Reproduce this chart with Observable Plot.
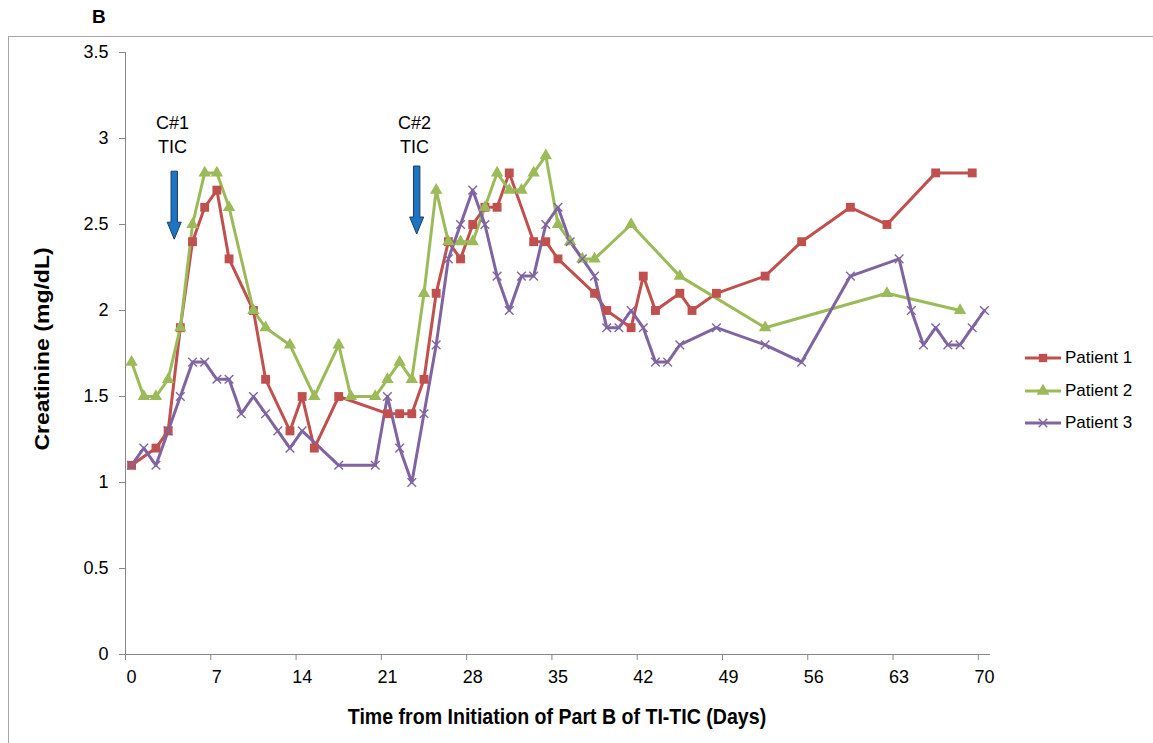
<!DOCTYPE html>
<html>
<head>
<meta charset="utf-8">
<script src="https://cdn.jsdelivr.net/npm/d3@7"></script>
<script src="https://cdn.jsdelivr.net/npm/@observablehq/plot@0.6"></script>
<style>
  body { margin: 0; background: #fff; font-family: "Liberation Sans", Arial, sans-serif; }
  #wrap { position: relative; width: 1153px; height: 743px; overflow: hidden; background: #fff; }
  #frame { position: absolute; left: 8px; top: 36px; width: 1200px; height: 800px; border: 1px solid #a6a6a6; }
  #panel { position: absolute; left: 92px; top: 7px; font-weight: bold; font-size: 19px; line-height: 1; }
  #chart { position: absolute; left: 0; top: 0; }
  #ytitle { position: absolute; left: 42px; top: 349px; transform: translate(-50%, -50%) rotate(-90deg) scaleY(0.87);
            font-weight: bold; font-size: 23px; line-height: 1; white-space: nowrap; }
  #xtitle { position: absolute; left: 557px; top: 717px; transform: translate(-50%, -50%) scaleX(0.87);
            font-weight: bold; font-size: 22.5px; line-height: 1; white-space: nowrap; }
  #legend { position: absolute; left: 1024px; top: 342px; font-size: 17px; }
  .lrow { display: flex; align-items: center; height: 32.5px; }
  .lrow svg { margin-right: 3px; }
</style>
</head>
<body>
<div id="wrap">
  <div id="frame"></div>
  <div id="panel">B</div>
  <div id="chart"></div>
  <div id="ytitle">Creatinine (mg/dL)</div>
  <div id="xtitle">Time from Initiation of Part B of TI-TIC (Days)</div>
  <div id="legend"></div>
</div>
<script>
// ---- data ----
const seriesNames = ["Patient 1", "Patient 2", "Patient 3"];
const seriesColors = ["#C0504D", "#9BBB59", "#8064A2"];

const p1Days   = [0,2,3,4,5,6,7,8,10,11,13,14,15,17,21,22,23,24,25,26,27,28,29,30,31,33,34,35,38,39,41,42,43,45,46,48,52,55,59,62,66,69];
const p1Values = [1.1,1.2,1.3,1.9,2.4,2.6,2.7,2.3,2.0,1.6,1.3,1.5,1.2,1.5,1.4,1.4,1.4,1.6,2.1,2.4,2.3,2.5,2.6,2.6,2.8,2.4,2.4,2.3,2.1,2.0,1.9,2.2,2.0,2.1,2.0,2.1,2.2,2.4,2.6,2.5,2.8,2.8];

const p2Days   = [0,1,2,3,4,5,6,7,8,10,11,13,15,17,18,20,21,22,23,24,25,26,27,28,29,30,31,32,33,34,35,36,37,38,41,45,52,62,68];
const p2Values = [1.7,1.5,1.5,1.6,1.9,2.5,2.8,2.8,2.6,2.0,1.9,1.8,1.5,1.8,1.5,1.5,1.6,1.7,1.6,2.1,2.7,2.4,2.4,2.4,2.6,2.8,2.7,2.7,2.8,2.9,2.5,2.4,2.3,2.3,2.5,2.2,1.9,2.1,2.0];

const p3Days   = [0,1,2,3,4,5,6,7,8,9,10,11,12,13,14,17,20,21,22,23,24,25,26,27,28,29,30,31,32,33,34,35,36,37,38,39,40,41,42,43,44,45,48,52,55,59,63,64,65,66,67,68,69,70];
const p3Values = [1.1,1.2,1.1,1.3,1.5,1.7,1.7,1.6,1.6,1.4,1.5,1.4,1.3,1.2,1.3,1.1,1.1,1.5,1.2,1.0,1.4,1.8,2.3,2.5,2.7,2.5,2.2,2.0,2.2,2.2,2.5,2.6,2.4,2.3,2.2,1.9,1.9,2.0,1.9,1.7,1.7,1.8,1.9,1.8,1.7,2.2,2.3,2.0,1.8,1.9,1.8,1.8,1.9,2.0];

const xTicks = [0,7,14,21,28,35,42,49,56,63,70];
const yTicks = [0,0.5,1,1.5,2,2.5,3,3.5];

const annLabels = ["C#1\nTIC", "C#2\nTIC"];
const annTextDays = [3.36, 23.23];
const annTextValues = [3.03, 3.03];
const annArrowDays = [3.5, 23.4];
const annArrowTops = [2.81, 2.84];

// ---- build table ----
const seriesDays = [p1Days, p2Days, p3Days];
const seriesValues = [p1Values, p2Values, p3Values];
const rows = seriesNames.flatMap((name, k) =>
  seriesDays[k].map((d, i) => ({patient: name, day: d, value: seriesValues[k][i]})));
const ann = annLabels.map((t, i) => ({label: t, tx: annTextDays[i], ty: annTextValues[i], ax: annArrowDays[i], ay: annArrowTops[i]}));

// date-axis style: each day occupies a one-day slot; points and labels sit at the slot centre
const slot = d => d + 0.5;

const downArrow = {
  draw(ctx) {
    const bw = 3.2, hw = 7, L = 68, H = 17;
    ctx.moveTo(-bw, 0);
    ctx.lineTo(bw, 0);
    ctx.lineTo(bw, L - H);
    ctx.lineTo(hw, L - H);
    ctx.lineTo(0, L);
    ctx.lineTo(-hw, L - H);
    ctx.lineTo(-bw, L - H);
    ctx.closePath();
  }
};

const symbols = ["square", "triangle", "times"];
const dotMarks = seriesNames.map((name, k) => {
  const data = rows.filter(r => r.patient === name);
  if (symbols[k] === "times")
    return Plot.dot(data, {x: d => slot(d.day), y: "value", symbol: "times", r: 4, stroke: seriesColors[k], strokeWidth: 1.4});
  return Plot.dot(data, {x: d => slot(d.day), y: "value", symbol: symbols[k], r: k === 0 ? 5 : 4.6, fill: seriesColors[k], stroke: "none"});
});

const plot = Plot.plot({
  width: 1153, height: 743,
  marginLeft: 125, marginRight: 163, marginTop: 52, marginBottom: 89,
  x: {domain: [0, 71]},
  y: {domain: [0, 3.5]},
  color: {domain: seriesNames, range: seriesColors},
  style: {fontSize: "18px", fontFamily: "Liberation Sans, Arial, sans-serif", background: "transparent", overflow: "visible"},
  marks: [
    Plot.ruleX([0], {stroke: "#868686"}),
    Plot.ruleY([0], {stroke: "#868686"}),
    Plot.axisY({ticks: yTicks, tickFormat: d => String(d), tickSize: 6, tickPadding: 11, stroke: "#868686", fill: "#000", label: null}),
    // tick marks at slot boundaries
    Plot.axisX({ticks: xTicks, tickFormat: () => "", tickSize: 6, stroke: "#868686", label: null}),
    // labels at slot centres
    Plot.axisX({ticks: xTicks.map(slot), tickFormat: d => String(d - 0.5), tickSize: 0, tickPadding: 16, fill: "#000", label: null}),
    Plot.line(rows, {x: d => slot(d.day), y: "value", z: "patient", stroke: "patient", strokeWidth: 3, strokeLinejoin: "round"}),
    ...dotMarks,
    Plot.dot(ann, {x: d => slot(d.ax), y: "ay", symbol: downArrow, fill: "#1C75C2", stroke: "#1F3A60", strokeWidth: 1}),
    Plot.text(ann, {x: d => slot(d.tx), y: "ty", text: "label", lineHeight: 1.3, fill: "#000", fontSize: 18})
  ]
});
document.getElementById("chart").appendChild(plot);

// ---- legend ----
const legend = d3.select("#legend");
seriesNames.forEach((name, k) => {
  const row = legend.append("div").attr("class", "lrow");
  const svg = row.append("svg").attr("width", 38).attr("height", 14);
  svg.append("line").attr("x1", 1).attr("x2", 37).attr("y1", 7).attr("y2", 7)
     .attr("stroke", seriesColors[k]).attr("stroke-width", 3);
  const sym = {square: d3.symbolSquare, triangle: d3.symbolTriangle, times: d3.symbolTimes}[symbols[k]];
  const p = svg.append("path").attr("transform", "translate(19,7)")
     .attr("d", d3.symbol(sym, symbols[k] === "times" ? 50 : 70)());
  if (symbols[k] === "times") p.attr("fill", "none").attr("stroke", seriesColors[k]).attr("stroke-width", 1.4);
  else p.attr("fill", seriesColors[k]);
  row.append("span").text(name);
});
</script>
</body>
</html>
